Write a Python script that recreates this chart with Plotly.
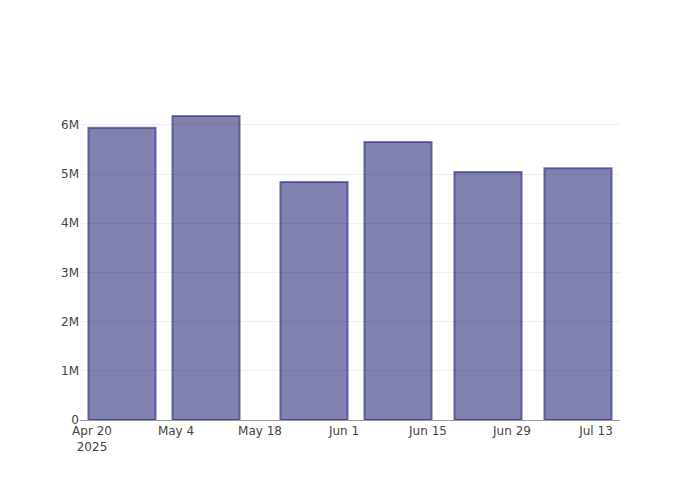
import plotly.graph_objects as go

dates = ["2025-04-25", "2025-05-09", "2025-05-27", "2025-06-10", "2025-06-25", "2025-07-10"]
values = [5.94e6, 6.18e6, 4.84e6, 5.65e6, 5.04e6, 5.12e6]

fig = go.Figure(
    go.Bar(
        x=dates,
        y=values,
        marker=dict(
            color="rgba(25,25,112,0.55)",
            line=dict(color="rgba(25,25,112,0.55)", width=2),
        ),
    )
)
fig.update_layout(
    template="plotly_white",
    width=692,
    height=492,
    margin=dict(l=72, r=80, t=92, b=80),
    font=dict(color="#444", family="DejaVu Sans"),
    xaxis=dict(showgrid=False, showline=True, linecolor="#999", linewidth=1,
               type="date"),
    yaxis=dict(gridcolor="#eeeeee", zeroline=False),
)
fig.write_html("out.html")
